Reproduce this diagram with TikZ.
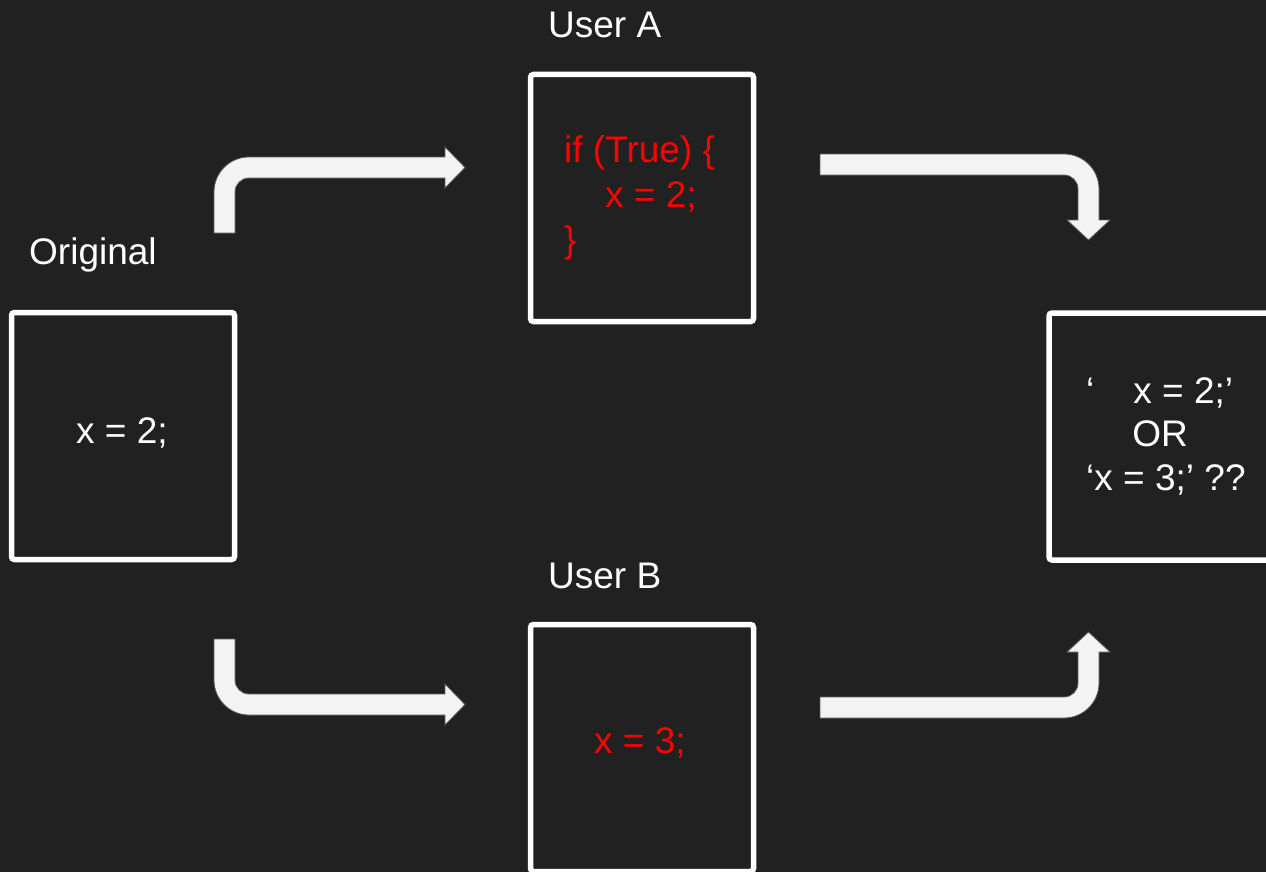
\documentclass[tikz,border=0pt]{standalone}
\usepackage{fontspec}
\setmainfont{Liberation Sans}
\definecolor{bgc}{HTML}{212121}
\definecolor{arrowc}{HTML}{F3F3F3}
\definecolor{arrowline}{HTML}{5A5A5A}
\definecolor{codered}{HTML}{FF0000}
\begin{document}
\begin{tikzpicture}[x=1pt,y=1pt,
  box/.style={draw=white, line width=5.5pt, fill=bgc, rounded corners=3pt,
    minimum width=223pt, minimum height=247pt, inner sep=0pt},
  lbl/.style={text=white, font=\fontsize{37}{44}\selectfont, inner sep=0pt},
  code/.style={text=codered, font=\fontsize{37}{44}\selectfont, inner sep=0pt},
  blockarrow/.style={fill=arrowc, draw=arrowline, line width=0.8pt, line join=miter}]
\useasboundingbox (0,0) rectangle (1266,-872);
\fill[bgc] (0,0) rectangle (1266,-872);

% boxes
\node[box] (orig) at (123,-436) {};
\node[box] (usera) at (642,-198) {};
\node[box] (userb) at (642,-748) {};
\node[box] (result) at (1160.5,-436.5) {};

% labels
\node[lbl, anchor=base west] (lorig) at (29,-264) {Original};
\node[lbl, anchor=base west] (lusera) at (548,-38) {User A};
\node[lbl, anchor=base west] (luserb) at (548,-588) {User B};

% box texts
\node[lbl, anchor=base] (torig) at (122,-443) {x = 2;};
\node[code, anchor=base west] (ta1) at (564,-162) {if (True) \{};
\node[code, anchor=base west] (ta2) at (605,-207) {x = 2;};
\node[code, anchor=base west] (ta3) at (564,-252) {\}};
\node[code, anchor=base] (tb) at (640,-753) {x = 3;};
\node[lbl, anchor=base west] (tr1) at (1086,-403) {‘\hspace*{39pt}x = 2;’};
\node[lbl, anchor=base] (tr2) at (1160,-446) {OR};
\node[lbl, anchor=base west] (tr3) at (1086,-490) {‘x = 3;’ ??};

% block arrows
\draw[blockarrow] (214,-233) -- (214,-192) arc[start angle=180,end angle=90,radius=35]
  -- (445,-157) -- (445,-147) -- (465,-167.5) -- (445,-188) -- (445,-178)
  -- (249,-178) arc[start angle=90,end angle=180,radius=14] -- (235,-233) -- cycle;

\draw[blockarrow] (820,-154) -- (1064,-154) arc[start angle=90,end angle=0,radius=35]
  -- (1099,-220) -- (1110,-220) -- (1088.5,-240) -- (1067,-220) -- (1078,-220)
  -- (1078,-189) arc[start angle=0,end angle=90,radius=14] -- (820,-175) -- cycle;

\draw[blockarrow] (214,-639) -- (214,-680) arc[start angle=180,end angle=270,radius=35]
  -- (445,-715) -- (445,-725) -- (465,-704.5) -- (445,-684) -- (445,-694)
  -- (249,-694) arc[start angle=270,end angle=180,radius=14] -- (235,-639) -- cycle;

\draw[blockarrow] (820,-718) -- (1064,-718) arc[start angle=270,end angle=360,radius=35]
  -- (1099,-652) -- (1110,-652) -- (1088.5,-632) -- (1067,-652) -- (1078,-652)
  -- (1078,-683) arc[start angle=0,end angle=-90,radius=14] -- (820,-697) -- cycle;
\end{tikzpicture}
\end{document}
